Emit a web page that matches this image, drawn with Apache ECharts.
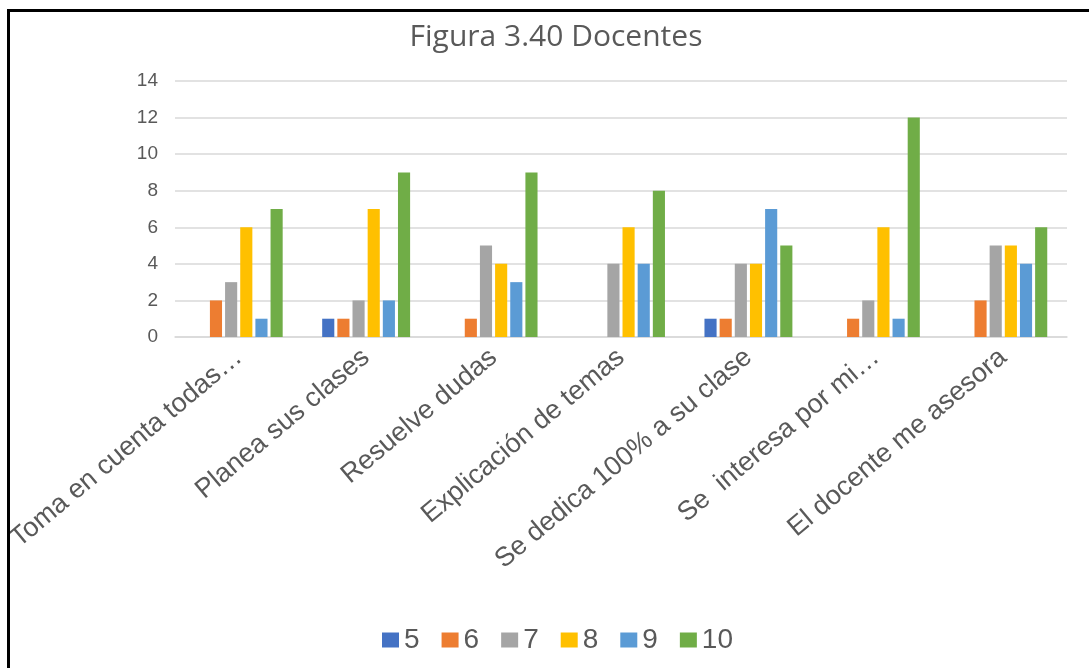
<!DOCTYPE html>
<html>
<head>
<meta charset="utf-8">
<script src="https://cdn.jsdelivr.net/npm/echarts@6/dist/echarts.min.js"></script>
<style>
html,body{margin:0;padding:0;background:#fff;}
#wrap{position:relative;width:1089px;height:668px;overflow:hidden;}
#chart{position:absolute;left:0;top:0;width:1089px;height:668px;}
#frame{position:absolute;left:7px;top:9px;width:1100px;height:700px;border-left:3px solid #000;border-top:3px solid #000;pointer-events:none;}
</style>
</head>
<body>
<div id="wrap"><div id="chart"></div><div id="frame"></div></div>
<script>
const titleText = 'Figura 3.40 Docentes';
const categories = ['Toma en cuenta todas…', 'Planea sus clases', 'Resuelve dudas', 'Explicación de temas', 'Se dedica 100% a su clase', 'Se  interesa por mi…', 'El docente me asesora'];
const seriesNames = ['5', '6', '7', '8', '9', '10'];
const s5  = [0, 1, 0, 0, 1, 0, 0];
const s6  = [2, 1, 1, 0, 1, 1, 2];
const s7  = [3, 2, 5, 4, 4, 2, 5];
const s8  = [6, 7, 4, 6, 4, 6, 5];
const s9  = [1, 2, 3, 4, 7, 1, 4];
const s10 = [7, 9, 9, 8, 5, 12, 6];
const yMin = 0, yMax = 14, yStep = 2;
const colors = ['#4472C4', '#ED7D31', '#A5A5A5', '#FFC000', '#5B9BD5', '#70AD47'];

const values = [s5, s6, s7, s8, s9, s10];
const chart = echarts.init(document.getElementById('chart'), null, {renderer: 'canvas'});
chart.setOption({
  animation: false,
  color: colors,
  title: {
    text: titleText,
    left: 551,
    textAlign: 'center',
    top: 17,
    textStyle: {fontFamily: 'Open Sans', fontSize: 30, fontWeight: 'normal', color: '#595959'}
  },
  grid: {left: 175, right: 22, top: 81, bottom: 331, containLabel: false},
  xAxis: {
    type: 'category',
    data: categories,
    axisLine: {show: true, lineStyle: {color: '#d9d9d9', width: 1.5}},
    axisTick: {show: false},
    axisLabel: {
      interval: 0,
      rotate: 40,
      margin: 17,
      fontFamily: 'Liberation Sans',
      fontSize: 27,
      color: '#595959'
    }
  },
  yAxis: {
    type: 'value',
    min: yMin, max: yMax, interval: yStep,
    axisLine: {show: false},
    axisTick: {show: false},
    splitLine: {lineStyle: {color: '#d9d9d9', width: 1.5}},
    axisLabel: {margin: 17, fontFamily: 'Liberation Sans', fontSize: 19, color: '#595959'}
  },
  legend: {
    left: 377,
    top: 621,
    itemWidth: 17,
    itemHeight: 15,
    itemGap: 22,
    icon: 'rect',
    textStyle: {fontFamily: 'Liberation Sans', fontSize: 28, color: '#595959'},
    data: seriesNames
  },
  series: seriesNames.map((n, i) => ({
    name: n,
    type: 'bar',
    data: values[i],
    barGap: '25%',
    barCategoryGap: '31%'
  }))
});
</script>
</body>
</html>
